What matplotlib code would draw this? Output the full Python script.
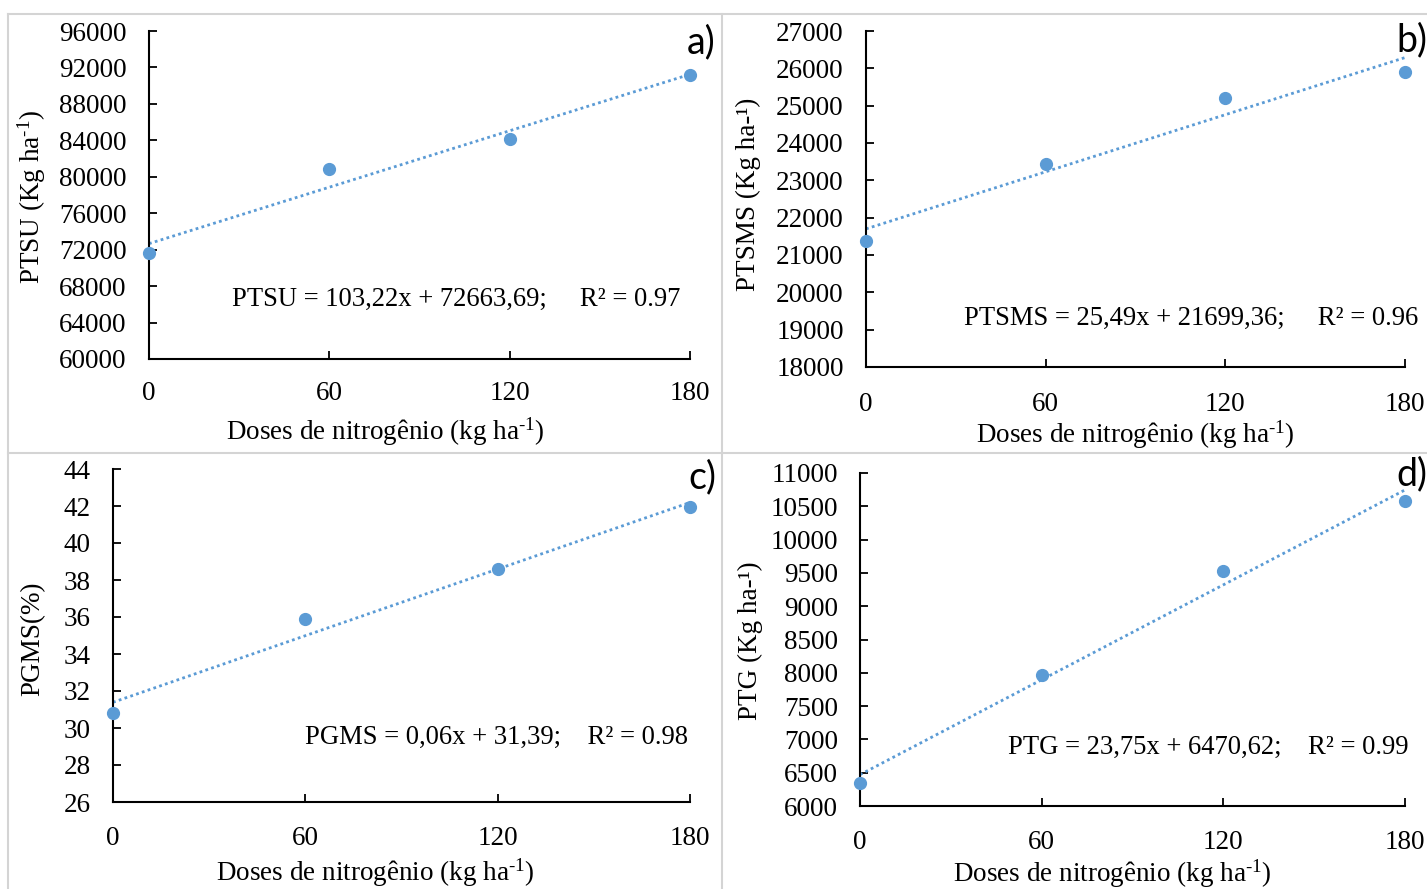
import matplotlib
matplotlib.use("Agg")
import matplotlib.pyplot as plt
from matplotlib.lines import Line2D
import numpy as np

plt.rcParams['font.family'] = ['Liberation Serif', 'DejaVu Serif']
plt.rcParams['mathtext.fontset'] = 'custom'
plt.rcParams['mathtext.rm'] = 'Liberation Serif'
plt.rcParams['mathtext.it'] = 'Liberation Serif:italic'

doses = [0, 60, 120, 180]

ptsu = [71630, 80860, 84150, 91170]
ptsms = [21380, 23440, 25200, 25900]
pgms = [30.8, 35.9, 38.6, 41.95]
ptg = [6345, 7960, 9530, 10580]

slopes = [103.22, 25.49, 0.06, 23.75]
intercepts = [72663.69, 21699.36, 31.39, 6470.62]

ylabels = [r'PTSU (Kg ha$^{\text{-1}}$)', 'PTSMS (Kg ha-¹)', 'PGMS(%)', 'PTG (Kg ha-¹)']
equations = ['PTSU = 103,22x + 72663,69;     R² = 0.97',
             'PTSMS = 25,49x + 21699,36;     R² = 0.96',
             'PGMS = 0,06x + 31,39;    R² = 0.98',
             'PTG = 23,75x + 6470,62;    R² = 0.99']
letters = ['a)', 'b)', 'c)', 'd)']
ylims = [(60000, 96000), (18000, 27000), (26, 44), (6000, 11000)]
ysteps = [4000, 1000, 2, 500]
xlabel = r'Doses de nitrogênio (kg ha$^{\text{-1}}$)'

W, H = 1427, 889
fig = plt.figure(figsize=(W / 100, H / 100), dpi=100)

def px(x, y):
    return x / W, 1 - y / H

# axes boxes in pixels: x0, x1, ytop, ybottom
boxes = [(149, 690, 31, 359), (866, 1405, 31, 367), (113, 690, 469, 802), (860, 1405, 473, 806)]
ylab_pos = [(32, 197), (748, 194), (33, 639), (750, 641)]
xlab_pos = [(385, 432), (1135, 435), (375, 873), (1112, 874)]
eq_pos = [(680, 299), (1418, 318), (688, 737), (1409, 747)]
letter_pos = [(716, 42), (1427, 40), (716, 477), (1427, 474)]
xpads = [16, 18, 17, 17]

series = [ptsu, ptsms, pgms, ptg]
color = '#5B9BD5'

for i in range(4):
    x0, x1, yt, yb = boxes[i]
    ax = fig.add_axes([x0 / W, 1 - yb / H, (x1 - x0) / W, (yb - yt) / H])
    ax.set_xlim(0, 180)
    ax.set_ylim(*ylims[i])
    xs = np.array([0, 180])
    ax.plot(xs, slopes[i] * xs + intercepts[i], linestyle=(0, (1, 1.2)), color=color, lw=2.0, clip_on=False)
    ax.plot(doses, series[i], 'o', color=color, ms=8.5, clip_on=False, zorder=5)
    ax.set_xticks(doses)
    ax.set_yticks(np.arange(ylims[i][0], ylims[i][1] + ysteps[i] / 2, ysteps[i]))
    ax.yaxis.set_major_formatter(matplotlib.ticker.FuncFormatter(lambda v, p: f'{v:g}' if v < 1000 else f'{int(v)}'))
    for s in ['top', 'right']:
        ax.spines[s].set_visible(False)
    for s in ['left', 'bottom']:
        ax.spines[s].set_linewidth(1.5)
    ax.tick_params(axis='both', direction='in', length=6, width=1.3, labelsize=19.5)
    ax.tick_params(axis='y', pad=16)
    ax.tick_params(axis='x', pad=xpads[i])
    fig.text(*px(*ylab_pos[i]), ylabels[i], rotation=90, ha='center', va='center', fontsize=19.5)
    fig.text(*px(*xlab_pos[i]), xlabel, ha='center', va='center', fontsize=19.5)
    fig.text(*px(*eq_pos[i]), equations[i], ha='right', va='center', fontsize=19.2)
    fig.text(*px(*letter_pos[i]), letters[i], ha='right', va='center', fontsize=27, family=['Lato', 'DejaVu Sans'])

grey = '#d4d4d4'
fig.add_artist(Line2D([8 / W, 1], [1 - 14 / H] * 2, color=grey, lw=1.5))
fig.add_artist(Line2D([8 / W, 1], [1 - 453 / H] * 2, color=grey, lw=1.5))
fig.add_artist(Line2D([8 / W] * 2, [0, 1 - 14 / H], color=grey, lw=1.5))
fig.add_artist(Line2D([722 / W] * 2, [0, 1 - 14 / H], color=grey, lw=1.5))

fig.savefig('out.png', dpi=100)
